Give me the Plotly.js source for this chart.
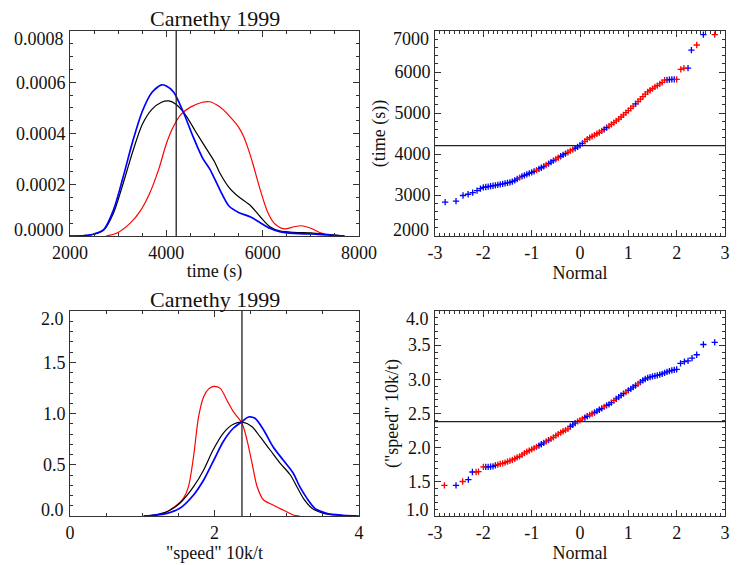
<!DOCTYPE html>
<html><head><meta charset="utf-8">
<script src="https://cdn.plot.ly/plotly-3.0.1.min.js"></script>
<style>html,body{margin:0;padding:0;background:#fff}#chart{width:744px;height:565px}</style>
</head><body><div id="chart"></div>
<script>
// ---------- KDE of finishing time (s) ----------
const timeAllX  = [2000,2300,2500,2700,2900,3100,3300,3500,3700,3900,4050,4200,4400,4600,4800,5000,5100,5300,5500,5750,5950,6150,6350,6650,7000,7350,7700];
const timeAllY  = [0,0.000002,0.000007,0.000023,0.000088,0.000203,0.000328,0.000435,0.000494,0.000522,0.000527,0.000514,0.000472,0.000410,0.000350,0.000290,0.000250,0.000190,0.000153,0.000118,0.000075,0.000036,0.000020,0.000014,0.000012,0.000006,0];
const timeBlueX = [2000,2300,2500,2700,2900,3100,3300,3500,3700,3900,4000,4150,4350,4550,4750,4900,5100,5300,5500,5750,5950,6150,6350,6650,7000,7350,7700];
const timeBlueY = [0,0.000002,0.000008,0.000025,0.000100,0.000228,0.000368,0.000486,0.000560,0.000590,0.000585,0.000562,0.000485,0.000390,0.000305,0.000262,0.000185,0.000117,0.000092,0.000074,0.000052,0.000030,0.000017,0.000010,0.000008,0.000004,0];
const timeRedX  = [2750,3000,3250,3450,3650,3850,4000,4150,4300,4500,4750,4900,5100,5300,5500,5600,5700,5800,5950,6100,6250,6450,6650,6800,7000,7200,7400,7550];
const timeRedY  = [0,0.000014,0.000050,0.000095,0.000165,0.000265,0.000360,0.000428,0.000474,0.000503,0.000522,0.000524,0.000505,0.000470,0.000425,0.000390,0.000340,0.000280,0.000180,0.000095,0.000048,0.000028,0.000036,0.000040,0.000030,0.000012,0.000003,0];

// ---------- KDE of "speed" 10k/t ----------
const speedAllX  = [1.02,1.15,1.34,1.52,1.71,1.85,1.98,2.12,2.26,2.40,2.52,2.63,2.77,2.91,3.05,3.14,3.23,3.35,3.51,3.74,3.97];
const speedAllY  = [0,0.010,0.042,0.124,0.286,0.449,0.644,0.807,0.895,0.914,0.871,0.774,0.644,0.514,0.400,0.286,0.172,0.075,0.026,0.007,0];
const speedBlueX = [1.02,1.15,1.34,1.52,1.71,1.85,1.98,2.12,2.26,2.38,2.47,2.56,2.68,2.81,2.95,3.09,3.18,3.28,3.39,3.55,3.78,4.0];
const speedBlueY = [0,0.006,0.026,0.075,0.205,0.351,0.530,0.725,0.856,0.920,0.966,0.953,0.839,0.676,0.546,0.417,0.286,0.172,0.075,0.026,0.007,0];
const speedRedX  = [1.18,1.34,1.48,1.57,1.64,1.71,1.78,1.85,1.92,1.99,2.08,2.17,2.26,2.38,2.45,2.52,2.59,2.68,2.81,2.95,3.09,3.18];
const speedRedY  = [0,0.042,0.107,0.172,0.286,0.579,0.969,1.164,1.240,1.265,1.245,1.132,1.018,0.904,0.741,0.514,0.286,0.156,0.107,0.058,0.010,0];

// ---------- means (vertical / horizontal reference lines) ----------
const meanTime  = 4205;
const meanSpeed = 2.38;

// ---------- normal probability (Q-Q) points ----------
const qqNormal = [-2.00,-1.95,-1.90,-1.85,-1.80,-1.75,-1.70,-1.65,-1.60,-1.55,
                  -1.50,-1.45,-1.40,-1.35,-1.30,-1.25,-1.20,-1.15,-1.10,-1.05,
                  -1.00,-0.95,-0.90,-0.85,-0.80,-0.75,-0.70,-0.65,-0.60,-0.55,
                  -0.50,-0.45,-0.40,-0.35,-0.30,-0.25,-0.20,-0.15,-0.10,-0.05,
                   0.00, 0.05, 0.10, 0.15, 0.20, 0.25, 0.30, 0.35, 0.40, 0.45,
                   0.50, 0.55, 0.60, 0.65, 0.70, 0.75, 0.80, 0.85, 0.90, 0.95,
                   1.00, 1.05, 1.10, 1.15, 1.20, 1.25, 1.30, 1.35, 1.40, 1.45,
                   1.50, 1.55, 1.60, 1.65, 1.70, 1.75, 1.80, 1.85, 1.90, 1.95, 2.00];
const qqTime = [3185,3195,3205,3215,3225,3236,3247,3258,3270,3283,
                3297,3310,3325,3355,3390,3425,3455,3478,3502,3526,
                3550,3578,3607,3636,3665,3698,3732,3766,3800,3836,
                3872,3908,3945,3978,4010,4043,4075,4108,4140,4175,
                4210,4260,4310,4360,4400,4430,4462,4494,4525,4563,
                4602,4641,4680,4722,4765,4807,4850,4902,4955,5007,
                5060,5115,5170,5225,5280,5340,5400,5458,5515,5555,
                5595,5635,5670,5708,5745,5800,5810,5815,5819,5820,5820];
const qqTimeGroup = ('bbbbbbbbbbbbbbb'+'r'+'bbbbbb'+'r'+'bbb'+'r'+'bbb'+'rr'+'bbb'+'rrr'+'bbbb'+
                     'rrrrrrrr'+'bb'+'rrrrrrrrrrr'+'b'+'rrrrrrrrrrrr'+'bbbb'+'r').split('');
const qqSpeed = [1.718,1.718,1.720,1.722,1.725,1.742,1.751,1.762,1.770,1.782,
                 1.795,1.808,1.822,1.838,1.858,1.874,1.895,1.920,1.940,1.957,
                 1.975,1.993,2.012,2.030,2.050,2.070,2.090,2.110,2.130,2.152,
                 2.175,2.198,2.220,2.240,2.258,2.275,2.310,2.335,2.360,2.385,
                 2.400,2.420,2.440,2.460,2.478,2.496,2.515,2.535,2.555,2.575,
                 2.596,2.618,2.635,2.660,2.688,2.714,2.741,2.764,2.790,2.814,
                 2.839,2.860,2.885,2.910,2.933,2.960,2.985,3.005,3.020,3.032,
                 3.042,3.050,3.058,3.068,3.080,3.095,3.108,3.120,3.130,3.138,3.146];
const qqSpeedGroup = ('r'+'bbbbb'+'rrrrrrrrrrrrrrrrr'+'bbb'+'r'+'b'+'rrrrrrrr'+'bbb'+'rrr'+'bb'+'rr'+
                      'bbbb'+'r'+'bbb'+'r'+'bbbb'+'r'+'bbbb'+'r'+'bbbbbbbbbbbbbbbb').split('');
// sparse tails
const tailTimeNormal = [-2.79,-2.565,-2.42,-2.315,-2.22,-2.13,-2.06,2.085,2.15,2.235,2.305,2.415,2.553,2.787];
const tailTime       = [2825,2853,2988,3018,3060,3105,3155,6064,6096,6096,6535,6658,6912,6912];
const tailTimeGroup  = ['b','b','b','b','b','b','b','r','r','b','b','r','b','r'];
const tailSpeedNormal = [-2.806,-2.565,-2.427,-2.31,-2.226,-2.15,-2.10,2.08,2.16,2.235,2.318,2.415,2.553,2.787];
const tailSpeed       = [1.449,1.449,1.505,1.532,1.644,1.644,1.650,3.234,3.26,3.27,3.31,3.36,3.51,3.54];
const tailSpeedGroup  = ['r','b','r','b','b','r','r','b','b','b','b','b','b','b'];

// ---------- ticks ----------
const timeTicks = [2000,4000,6000,8000];
const timeTickText = ['2000','4000','6000','8000'];
const densTicks = [0,0.0002,0.0004,0.0006,0.0008];
const densTickText = ['0.0000','0.0002','0.0004','0.0006','0.0008'];
const speedTicks = [0,2,4];
const speedTickText = ['0','2','4'];
const speedDensTicks = [0,0.5,1.0,1.5,2.0];
const speedDensTickText = ['0.0','0.5','1.0','1.5','2.0'];
const normalTicks = [-3,-2,-1,0,1,2,3];
const normalTickText = ['-3','-2','-1','0','1','2','3'];
const qqTimeTicks = [2000,3000,4000,5000,6000,7000];
const qqTimeTickText = ['2000','3000','4000','5000','6000','7000'];
const qqSpeedTicks = [1.0,1.5,2.0,2.5,3.0,3.5,4.0];
const qqSpeedTickText = ['1.0','1.5','2.0','2.5','3.0','3.5','4.0'];

// ---------- styling ----------
const FONT = 'Liberation Serif';
const TXT = '#111';
const BLUE = '#0000ff', RED = '#ff0000', BLACK = '#000000';

function pick(arrX, arrY, groups, g){
  const xs=[], ys=[];
  for (let i=0;i<arrX.length;i++){ if(groups[i]===g){ xs.push(arrX[i]); ys.push(arrY[i]); } }
  return [xs, ys];
}
function qqTraces(nx, ny, ng, tx, ty, tg, xa, ya){
  const out=[];
  [['b',BLUE],['r',RED]].forEach(([g,c])=>{
    const a=pick(nx,ny,ng,g), b=pick(tx,ty,tg,g);
    out.push({type:'scatter', mode:'markers', x:a[0].concat(b[0]), y:a[1].concat(b[1]), xaxis:xa, yaxis:ya,
      marker:{symbol:'cross-thin-open', size:4.5, color:c, line:{color:c, width:1.3}}, hoverinfo:'skip'});
  });
  return out;
}
function kde(x,y,c,w,xa,ya){
  return {type:'scatter', mode:'lines', x:x, y:y, xaxis:xa, yaxis:ya,
          line:{color:c, width:w, shape:'spline', smoothing:0.8}, hoverinfo:'skip'};
}

const traces = [
  kde(timeRedX,timeRedY,RED,1.2,'x','y'),
  kde(timeAllX,timeAllY,BLACK,1.2,'x','y'),
  kde(timeBlueX,timeBlueY,BLUE,1.7,'x','y'),
  kde(speedRedX,speedRedY,RED,1.2,'x3','y3'),
  kde(speedAllX,speedAllY,BLACK,1.2,'x3','y3'),
  kde(speedBlueX,speedBlueY,BLUE,1.7,'x3','y3'),
  ...qqTraces(qqNormal,qqTime,qqTimeGroup,tailTimeNormal,tailTime,tailTimeGroup,'x2','y2'),
  ...qqTraces(qqNormal,qqSpeed,qqSpeedGroup,tailSpeedNormal,tailSpeed,tailSpeedGroup,'x4','y4')
];

function ax(o){
  return Object.assign({showline:true, linecolor:'#333', linewidth:1, mirror:'allticks',
    ticks:'inside', ticklen:6, tickwidth:1, tickcolor:'#333', showgrid:false, zeroline:false,
    tickmode:'array', fixedrange:true,
    tickfont:{family:FONT, size:18, color:TXT}}, o);
}
function minor(d){ return {ticks:'inside', ticklen:3, tickwidth:1, tickcolor:'#333', dtick:d, showgrid:false}; }
function blankEnds(t){ return t.map((s,i)=> (i===0||i===t.length-1)?'':s); }

const colL=[70/744, 359/744], colR=[435/744, 725/744];
const rowT=[1-236/565, 1-31/565], rowB=[1-516/565, 1-311/565];

const layout = {
  width:744, height:565, margin:{l:0,r:0,t:0,b:0}, showlegend:false,
  paper_bgcolor:'#fff', plot_bgcolor:'#fff', font:{family:FONT, size:18, color:TXT},
  xaxis: ax({domain:colL, anchor:'y', range:[2000,8000], tickvals:timeTicks, ticktext:timeTickText, minor:minor(500),
    title:{text:'time (s)', font:{family:FONT,size:18,color:TXT}, standoff:2}}),
  yaxis: ax({domain:rowT, anchor:'x', range:[0,0.0008], tickvals:densTicks, ticktext:blankEnds(densTickText), minor:minor(0.00005)}),
  xaxis2: ax({domain:colR, anchor:'y2', range:[-3,3], tickvals:normalTicks, ticktext:normalTickText, minor:minor(0.1),
    title:{text:'Normal', font:{family:FONT,size:18,color:TXT}, standoff:2}}),
  yaxis2: ax({domain:rowT, anchor:'x2', range:[2000,7000], tickvals:qqTimeTicks, ticktext:blankEnds(qqTimeTickText), minor:minor(200),
    title:{text:'(time (s))', font:{family:FONT,size:18,color:TXT}, standoff:4}}),
  xaxis3: ax({domain:colL, anchor:'y3', range:[0,4], tickvals:speedTicks, ticktext:speedTickText, minor:minor(0.5),
    title:{text:'"speed" 10k/t', font:{family:FONT,size:18,color:TXT}, standoff:2}}),
  yaxis3: ax({domain:rowB, anchor:'x3', range:[0,2.0], tickvals:speedDensTicks, ticktext:blankEnds(speedDensTickText), minor:minor(0.1)}),
  xaxis4: ax({domain:colR, anchor:'y4', range:[-3,3], tickvals:normalTicks, ticktext:normalTickText, minor:minor(0.1),
    title:{text:'Normal', font:{family:FONT,size:18,color:TXT}, standoff:2}}),
  yaxis4: ax({domain:rowB, anchor:'x4', range:[1.0,4.0], tickvals:qqSpeedTicks, ticktext:blankEnds(qqSpeedTickText), minor:minor(0.1),
    title:{text:'("speed" 10k/t)', font:{family:FONT,size:18,color:TXT}, standoff:4}}),
  shapes:[
    {type:'line', xref:'x', yref:'y domain', x0:meanTime, x1:meanTime, y0:0, y1:1, line:{color:'#222', width:1.3}},
    {type:'line', xref:'x2 domain', yref:'y2', x0:0, x1:1, y0:meanTime, y1:meanTime, line:{color:'#222', width:1.3}},
    {type:'line', xref:'x3', yref:'y3 domain', x0:meanSpeed, x1:meanSpeed, y0:0, y1:1, line:{color:'#222', width:1.3}},
    {type:'line', xref:'x4 domain', yref:'y4', x0:0, x1:1, y0:meanSpeed, y1:meanSpeed, line:{color:'#222', width:1.3}}
  ],
  annotations:[]
};

// titles
[[rowT,'Carnethy 1999',1-19/565],[rowB,'Carnethy 1999',1-299/565]].forEach(([r,t,y])=>{
  layout.annotations.push({xref:'paper', yref:'paper', x:(colL[0]+colL[1])/2, y:y, xanchor:'center', yanchor:'middle',
    text:t, showarrow:false, font:{family:FONT, size:22, color:TXT}});
});
// end tick labels, pulled inside the axis span as in the original
function ends(xa, ya, texts){
  const top=texts[texts.length-1], bot=texts[0];
  layout.annotations.push({xref:xa+' domain', yref:ya+' domain', x:0, y:1, xanchor:'right', yanchor:'middle',
    xshift:-4, yshift:-8, text:top, showarrow:false, font:{family:FONT,size:18,color:TXT}});
  layout.annotations.push({xref:xa+' domain', yref:ya+' domain', x:0, y:0, xanchor:'right', yanchor:'middle',
    xshift:-4, yshift:6, text:bot, showarrow:false, font:{family:FONT,size:18,color:TXT}});
}
ends('x','y',densTickText);
ends('x2','y2',qqTimeTickText);
ends('x3','y3',speedDensTickText);
ends('x4','y4',qqSpeedTickText);

Plotly.newPlot('chart', traces, layout, {staticPlot:true, displayModeBar:false});
</script></body></html>
